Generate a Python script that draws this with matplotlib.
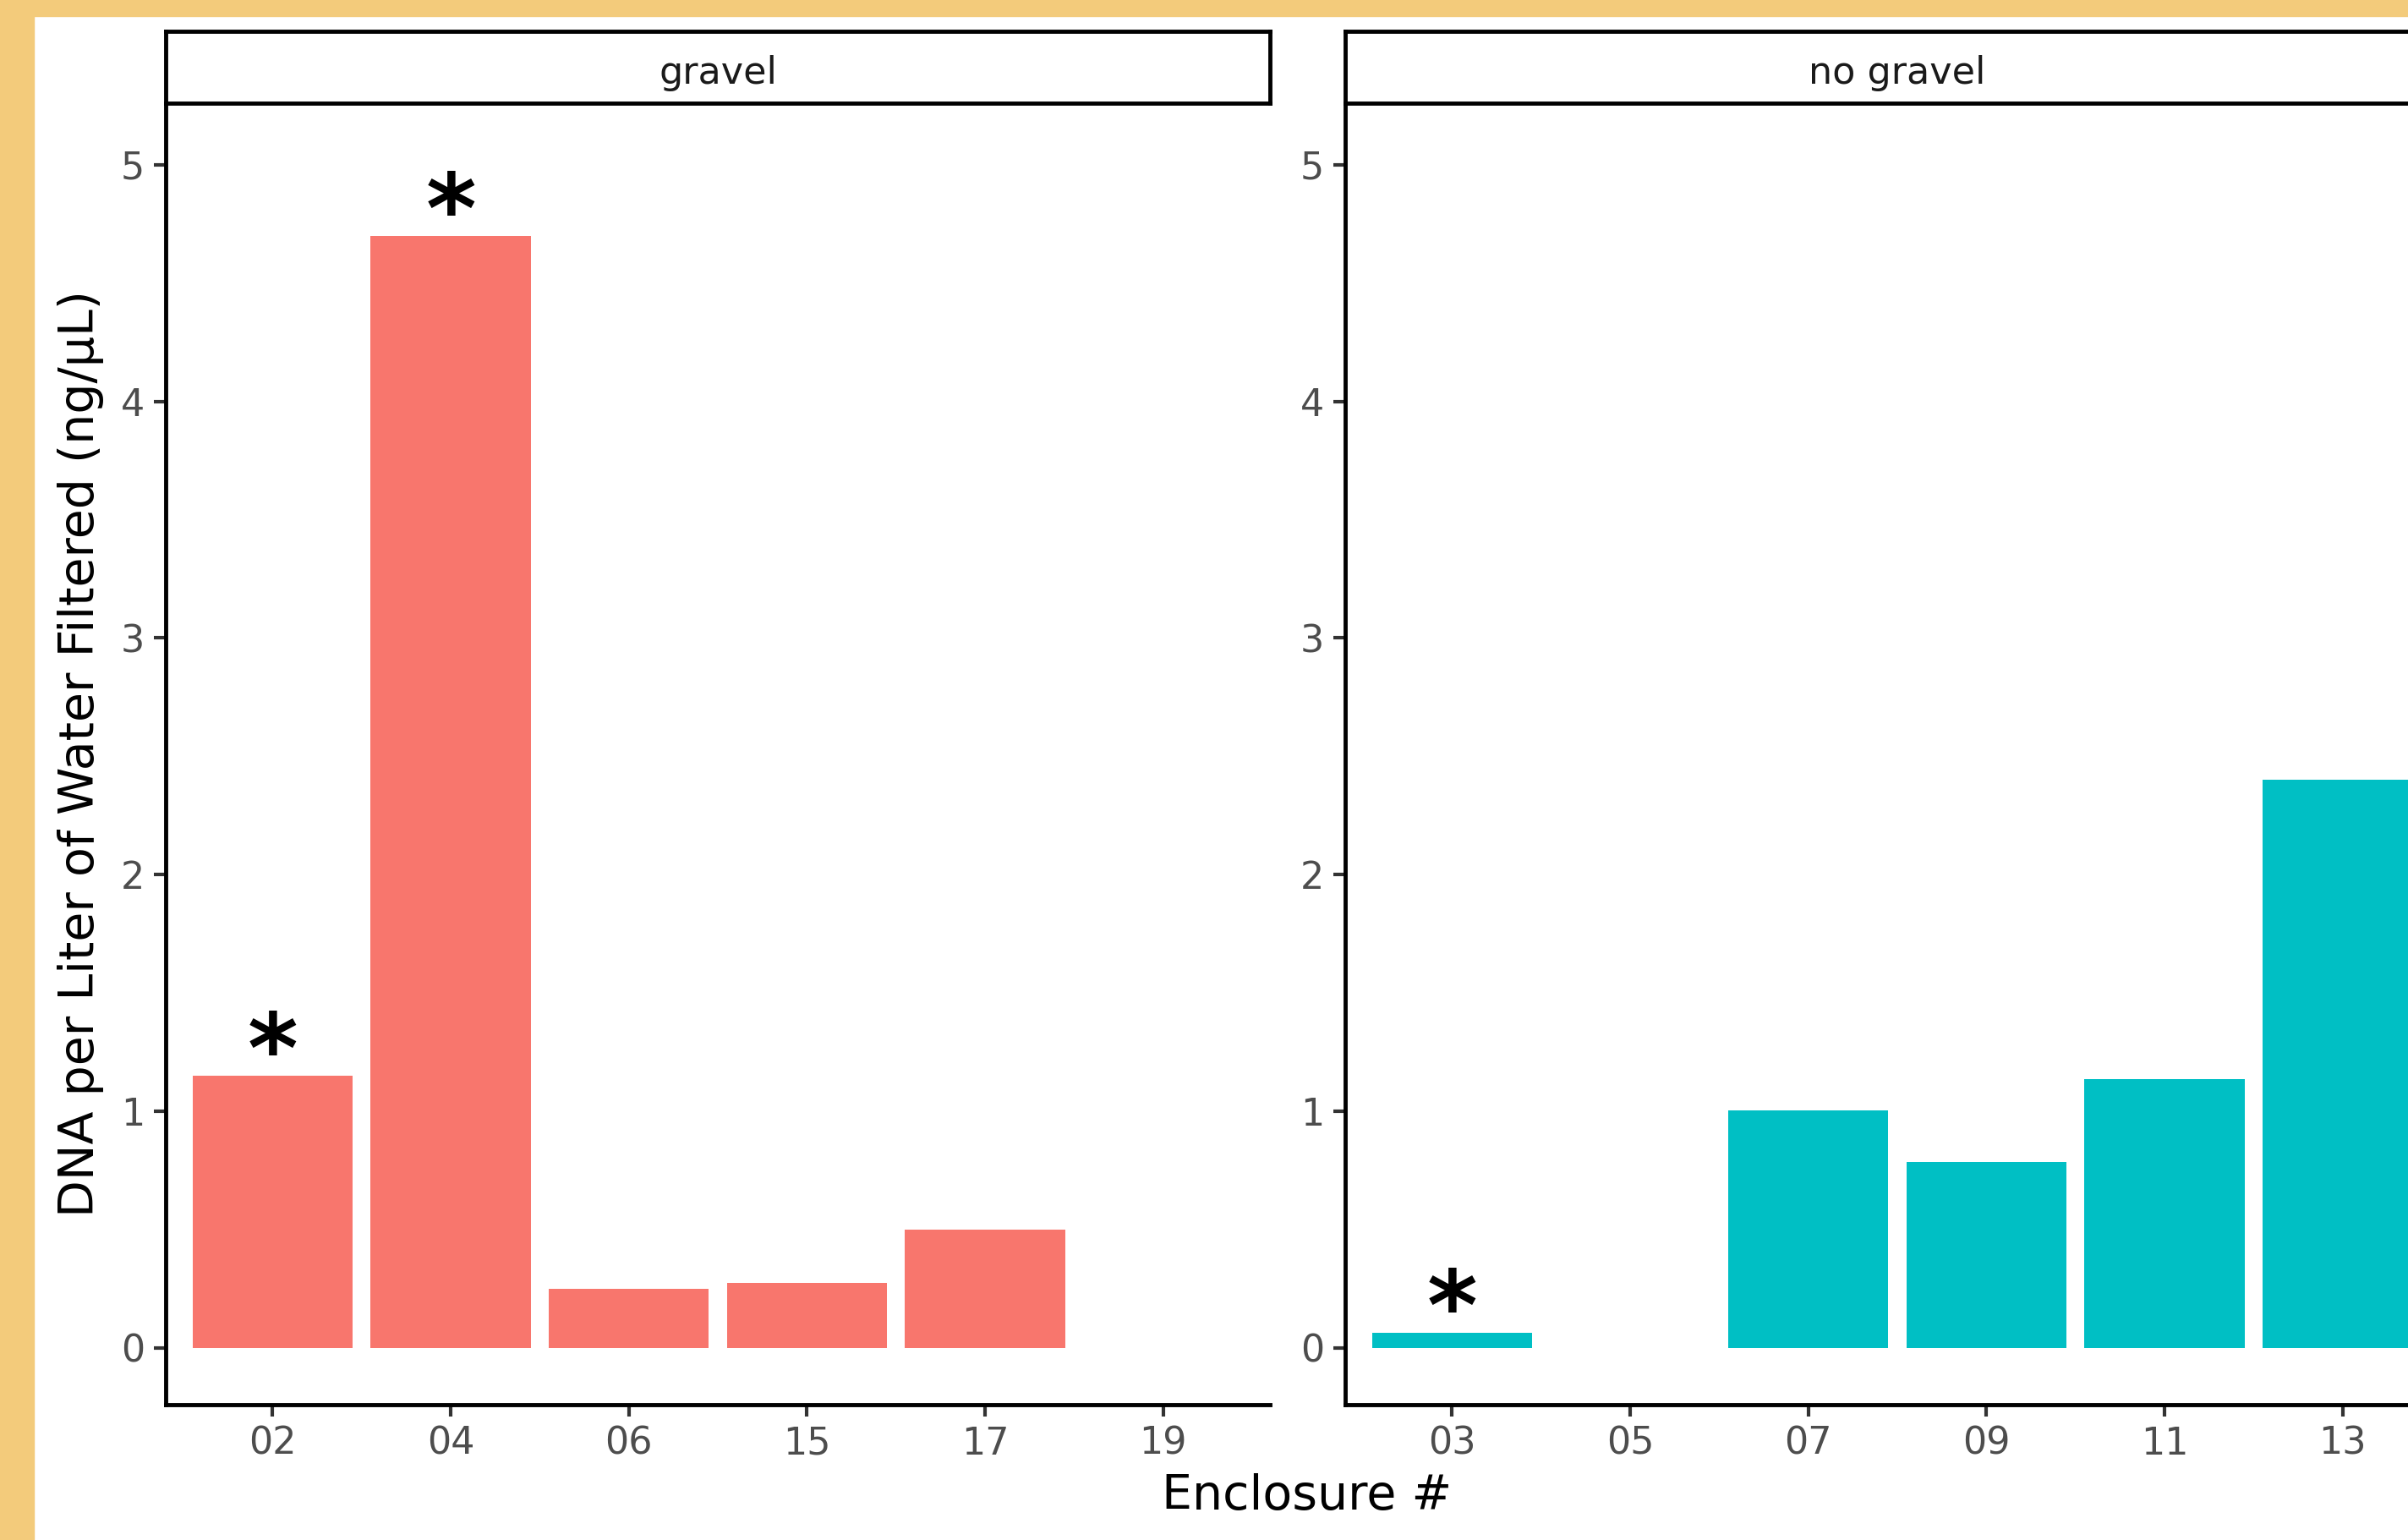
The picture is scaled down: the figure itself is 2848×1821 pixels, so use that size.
import matplotlib.pyplot as plt
from matplotlib.patches import Rectangle

# data
gravel_labels = ['02', '04', '06', '15', '17', '19']
gravel_values = [1.15, 4.70, 0.25, 0.275, 0.50, 0.0]
gravel_stars = ['02', '04']

nogravel_labels = ['03', '05', '07', '09', '11', '13']
nogravel_values = [0.065, 0.0, 1.005, 0.785, 1.135, 2.40]
nogravel_stars = ['03']

y_ticks = [0, 1, 2, 3, 4, 5]

W, H = 2848, 1821
fig = plt.figure(figsize=(W / 100, H / 100), dpi=100)
fig.patch.set_facecolor('white')

# orange frame from the screenshot (left and top)
orange = '#F3CB7B'
fig.add_artist(Rectangle((0, 0), 40 / W, 1, transform=fig.transFigure, color=orange, zorder=-5))
fig.add_artist(Rectangle((0, 1 - 19 / H), 1, 19 / H, transform=fig.transFigure, color=orange, zorder=-5))

tick_fs = 32
title_fs = 41
star_fs = 82

panel_w = 1306
panel_top, panel_bot = 122, 1661
strip_top = 37


def facet(x0, labels, values, stars, color, name):
    ax = fig.add_axes([x0 / W, 1 - panel_bot / H, panel_w / W, (panel_bot - panel_top) / H])
    pos = list(range(len(labels)))
    ax.bar(pos, values, width=0.9, color=color, linewidth=0)
    for lab, v in zip(labels, values):
        if lab in stars:
            ax.text(labels.index(lab), v - 0.03, '*', ha='center', va='baseline',
                    fontsize=star_fs, fontweight='bold', color='black')
    ax.set_xlim(-0.6, len(labels) - 0.4)
    ax.set_ylim(-0.24, 5.26)
    ax.set_xticks(pos)
    ax.set_xticklabels(labels)
    ax.set_yticks(y_ticks)
    for s in ['top', 'right']:
        ax.spines[s].set_visible(False)
    for s in ['left', 'bottom']:
        ax.spines[s].set_linewidth(3.5)
        ax.spines[s].set_color('black')
    ax.tick_params(length=10, width=3, color='#333333', labelcolor='#4D4D4D',
                   labelsize=tick_fs, pad=8)

    # facet strip
    sax = fig.add_axes([x0 / W, 1 - panel_top / H, panel_w / W, (panel_top - strip_top) / H])
    sax.set_xticks([])
    sax.set_yticks([])
    for s in sax.spines.values():
        s.set_linewidth(3.5)
        s.set_color('black')
    sax.text(0.5, 0.47, name, ha='center', va='center_baseline', fontsize=tick_fs,
             color='#1A1A1A', transform=sax.transAxes)
    return ax


ax1 = facet(196, gravel_labels, gravel_values, gravel_stars, '#F8766D', 'gravel')
ax2 = facet(1591, nogravel_labels, nogravel_values, nogravel_stars, '#00BFC4', 'no gravel')

fig.text(96 / W, 1 - 891 / H, 'DNA per Liter of Water Filtered (ng/µL)', rotation=90,
         ha='center', va='center', fontsize=title_fs, color='black')
fig.text(1546 / W, 1 - 1770 / H, 'Enclosure #', ha='center', va='center',
         fontsize=title_fs, color='black')

fig.savefig('out.png', dpi=100)
